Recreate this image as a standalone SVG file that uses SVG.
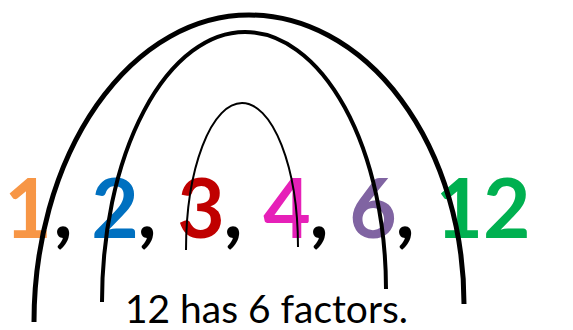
<svg xmlns="http://www.w3.org/2000/svg" width="573" height="330" viewBox="0 0 573 330">
<style>
.num{font-family:Lato,"Open Sans","Liberation Sans",sans-serif;font-weight:bold;font-size:82px;text-anchor:middle}
.sep{fill:#000}
.arc{fill:none;stroke:#000;stroke-linecap:butt}
.cap{font-family:Lato,"Open Sans","Liberation Sans",sans-serif;font-size:38px;fill:#000}
</style>
<rect width="573" height="330" fill="#fff"/>
<g id="n1"><text class="num" x="28" y="238" fill="#F79646">1</text></g>
<g id="n2"><text class="num" x="115" y="238" fill="#0070C0">2</text></g>
<g id="n3"><text class="num" x="201" y="238" fill="#C00000">3</text></g>
<g id="n4"><text class="num" x="287" y="238" fill="#E620B8">4</text></g>
<g id="n6"><text class="num" x="373" y="238" fill="#8064A2">6</text></g>
<g id="n12"><text class="num" x="483" y="238" fill="#00B050">12</text></g>
<g id="commas">
<text class="num sep" x="63" y="238">,</text>
<text class="num sep" x="147" y="238">,</text>
<text class="num sep" x="233" y="238">,</text>
<text class="num sep" x="319" y="238">,</text>
<text class="num sep" x="405" y="238">,</text>
</g>
<g id="connectors">
<path class="arc" stroke-width="5" d="M34 322 A215 307 0 0 1 249 15 A215 289 0 0 1 464 304"/>
<path class="arc" stroke-width="4" d="M102 302 A143 270 0 0 1 245 32 A141 257 0 0 1 386 289"/>
<path class="arc" stroke-width="2" d="M186 250 A56 147 0 0 1 242 103 A56 144 0 0 1 298 247"/>
</g>
<g id="caption"><text class="cap" x="125" y="323" textLength="283" lengthAdjust="spacingAndGlyphs">12 has 6 factors.</text></g>
</svg>
